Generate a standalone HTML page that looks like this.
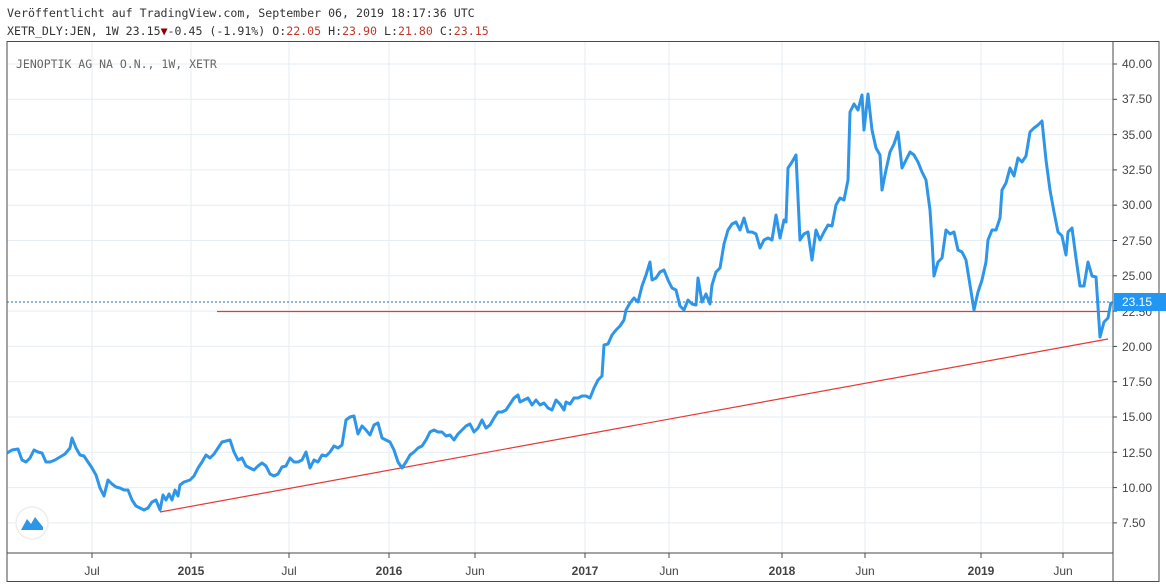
<!DOCTYPE html>
<html><head><meta charset="utf-8"><style>
body{margin:0;background:#fff;width:1166px;height:588px;overflow:hidden;font-family:"DejaVu Sans Mono","Liberation Mono",monospace;}
.t{position:absolute;font-size:11.6px;color:#333;white-space:pre;}
</style></head><body>
<div class="t" style="left:7px;top:6px">Veröffentlicht auf TradingView.com, September 06, 2019 18:17:36 UTC</div>
<div class="t" style="left:7px;top:24px">XETR_DLY:JEN, 1W 23.15<span style="color:#8b0000">▼</span>-0.45 (-1.91%) O:<span style="color:#c0392b">22.05</span> H:<span style="color:#c0392b">23.90</span> L:<span style="color:#c0392b">21.80</span> C:<span style="color:#c0392b">23.15</span></div>
<svg width="1166" height="588" style="position:absolute;left:0;top:0" xmlns="http://www.w3.org/2000/svg">
<g stroke="#e6edf3" stroke-width="1">
<line x1="92" y1="42" x2="92" y2="553"/><line x1="191" y1="42" x2="191" y2="553"/><line x1="289" y1="42" x2="289" y2="553"/><line x1="389" y1="42" x2="389" y2="553"/><line x1="475" y1="42" x2="475" y2="553"/><line x1="585" y1="42" x2="585" y2="553"/><line x1="669" y1="42" x2="669" y2="553"/><line x1="782" y1="42" x2="782" y2="553"/><line x1="865" y1="42" x2="865" y2="553"/><line x1="981" y1="42" x2="981" y2="553"/><line x1="1063" y1="42" x2="1063" y2="553"/>
<line x1="7" y1="64" x2="1113" y2="64"/><line x1="7" y1="99.3" x2="1113" y2="99.3"/><line x1="7" y1="134.6" x2="1113" y2="134.6"/><line x1="7" y1="169.9" x2="1113" y2="169.9"/><line x1="7" y1="205.2" x2="1113" y2="205.2"/><line x1="7" y1="240.5" x2="1113" y2="240.5"/><line x1="7" y1="275.8" x2="1113" y2="275.8"/><line x1="7" y1="311.1" x2="1113" y2="311.1"/><line x1="7" y1="346.4" x2="1113" y2="346.4"/><line x1="7" y1="381.7" x2="1113" y2="381.7"/><line x1="7" y1="417" x2="1113" y2="417"/><line x1="7" y1="452.3" x2="1113" y2="452.3"/><line x1="7" y1="487.6" x2="1113" y2="487.6"/><line x1="7" y1="522.9" x2="1113" y2="522.9"/>
</g>
<rect x="7" y="41.5" width="1152" height="540" fill="none" stroke="#4a4a4a" stroke-width="1"/>
<line x1="7" y1="553" x2="1113" y2="553" stroke="#4a4a4a"/>
<line x1="1113" y1="41.5" x2="1113" y2="582" stroke="#4a4a4a"/>
<g stroke="#4a4a4a"><line x1="92" y1="553" x2="92" y2="558"/><line x1="191" y1="553" x2="191" y2="558"/><line x1="289" y1="553" x2="289" y2="558"/><line x1="389" y1="553" x2="389" y2="558"/><line x1="475" y1="553" x2="475" y2="558"/><line x1="585" y1="553" x2="585" y2="558"/><line x1="669" y1="553" x2="669" y2="558"/><line x1="782" y1="553" x2="782" y2="558"/><line x1="865" y1="553" x2="865" y2="558"/><line x1="981" y1="553" x2="981" y2="558"/><line x1="1063" y1="553" x2="1063" y2="558"/></g>
<g font-family="Liberation Sans, sans-serif" font-size="12" fill="#444" text-anchor="middle">
<text x="92" y="575">Jul</text><text x="191" y="575" font-weight="bold">2015</text><text x="289" y="575">Jul</text><text x="389" y="575" font-weight="bold">2016</text><text x="475" y="575">Jun</text><text x="585" y="575" font-weight="bold">2017</text><text x="669" y="575">Jun</text><text x="782" y="575" font-weight="bold">2018</text><text x="865" y="575">Jun</text><text x="981" y="575" font-weight="bold">2019</text><text x="1063" y="575">Jun</text>
</g>
<g font-family="Liberation Sans, sans-serif" font-size="12" fill="#444">
<text x="1122" y="68">40.00</text><text x="1122" y="103">37.50</text><text x="1122" y="139">35.00</text><text x="1122" y="174">32.50</text><text x="1122" y="209">30.00</text><text x="1122" y="245">27.50</text><text x="1122" y="280">25.00</text><text x="1122" y="316">22.50</text><text x="1122" y="351">20.00</text><text x="1122" y="386">17.50</text><text x="1122" y="421">15.00</text><text x="1122" y="457">12.50</text><text x="1122" y="492">10.00</text><text x="1122" y="527">7.50</text>
</g>
<g stroke="#4a4a4a"><line x1="1113" y1="64" x2="1117" y2="64"/><line x1="1113" y1="99.3" x2="1117" y2="99.3"/><line x1="1113" y1="134.6" x2="1117" y2="134.6"/><line x1="1113" y1="169.9" x2="1117" y2="169.9"/><line x1="1113" y1="205.2" x2="1117" y2="205.2"/><line x1="1113" y1="240.5" x2="1117" y2="240.5"/><line x1="1113" y1="275.8" x2="1117" y2="275.8"/><line x1="1113" y1="311.1" x2="1117" y2="311.1"/><line x1="1113" y1="346.4" x2="1117" y2="346.4"/><line x1="1113" y1="381.7" x2="1117" y2="381.7"/><line x1="1113" y1="417" x2="1117" y2="417"/><line x1="1113" y1="452.3" x2="1117" y2="452.3"/><line x1="1113" y1="487.6" x2="1117" y2="487.6"/><line x1="1113" y1="522.9" x2="1117" y2="522.9"/></g>
<text x="16" y="68" font-family="DejaVu Sans Mono, monospace" font-size="11.5" fill="#666">JENOPTIK AG NA O.N., 1W, XETR</text>
<line x1="7" y1="302" x2="1113" y2="302" stroke="#1e6fbf" stroke-dasharray="2,2"/>
<line x1="217" y1="311.5" x2="1108" y2="311.5" stroke="#e53935" stroke-width="1.2"/>
<line x1="160" y1="512" x2="1108" y2="339" stroke="#e53935" stroke-width="1.2"/>
<polyline fill="none" stroke="#2e96e8" stroke-width="3" stroke-linejoin="round" points="7,453 12,450 18,449 22,460 26,462 30,458 34,450 38,452 42,453 46,462 50,462 55,460 60,457 65,454 70,448 72,438 76,448 80,455 84,456 88,462 92,468 96,475 100,488 104,496 108,480 112,484 116,487 120,488 124,490 128,490 132,500 136,506 140,508 144,510 148,508 152,502 156,500 160,510 163,495 166,500 169,494 172,500 175,490 178,496 180,485 184,482 190,480 194,476 198,468 202,462 206,455 210,458 214,454 218,448 222,442 226,441 230,440 234,452 238,460 242,458 246,466 250,468 254,470 258,466 262,463 266,466 270,474 274,476 278,474 282,467 286,466 290,458 294,462 298,462 302,460 306,452 310,468 314,460 318,462 322,455 326,456 330,452 334,446 338,448 342,445 346,420 350,417 354,416 358,434 362,426 366,430 370,435 374,425 378,423 382,438 386,440 390,442 394,450 398,462 402,468 406,462 410,455 414,452 418,448 422,446 426,440 430,432 434,430 438,432 442,432 446,436 450,435 454,440 458,434 462,430 466,426 470,424 474,432 478,428 482,420 486,428 490,425 494,418 498,412 502,412 506,410 510,404 514,398 518,395 520,402 524,400 528,398 532,405 536,400 540,405 544,403 548,408 552,410 556,400 560,404 564,410 566,402 570,404 574,398 578,398 582,396 586,396 590,398 594,388 598,380 602,376 604,345 608,344 612,335 616,330 620,326 624,320 626,310 630,303 634,298 638,302 642,286 646,275 650,262 652,280 656,278 660,272 664,270 668,280 672,288 676,290 680,306 684,310 688,300 692,304 696,305 698,278 702,302 706,294 710,304 712,285 716,272 720,268 724,244 728,230 732,224 736,222 740,230 744,218 748,232 752,232 756,234 760,248 764,240 768,238 772,240 776,215 780,238 784,220 786,222 788,168 792,162 796,155 800,240 804,234 808,232 812,260 816,230 820,240 824,232 828,225 832,226 836,205 840,198 844,200 848,180 850,112 854,104 858,110 862,95 864,130 868,94 872,130 876,148 880,155 882,190 886,170 890,152 894,144 898,132 902,168 906,160 910,152 914,155 918,162 922,172 926,180 930,210 932,240 934,276 938,262 942,258 946,230 950,234 954,232 958,250 962,252 966,260 970,285 974,310 978,292 982,280 986,262 988,240 992,230 996,230 1000,218 1002,190 1006,183 1010,168 1014,176 1018,158 1022,162 1026,156 1030,132 1034,128 1038,125 1042,121 1046,160 1050,190 1054,212 1058,232 1062,236 1066,255 1068,232 1072,228 1076,258 1080,286 1084,286 1088,262 1092,276 1096,277 1100,337 1104,322 1108,318 1111,302"/>
<rect x="1114" y="293" width="52" height="18" fill="#2196f3"/>
<text x="1122" y="306" font-family="Liberation Sans, sans-serif" font-size="12" fill="#fff">23.15</text>
<circle cx="32" cy="523" r="16" fill="#fff" stroke="#eee" stroke-width="1.5"/>
<path d="M21,530 L27,519 L31,524 L35,517 L43,527 L43,530 Z" fill="#2e96e8"/>
</svg>
</body></html>
